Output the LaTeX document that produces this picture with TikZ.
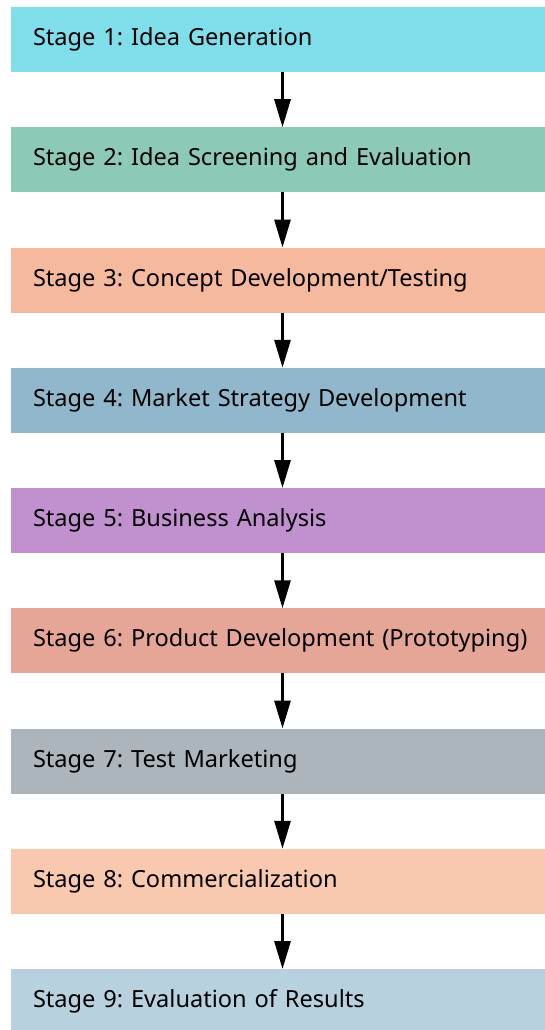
\documentclass[tikz,border=0pt]{standalone}
\usepackage{fontspec}
\setmainfont{Noto Sans}
\usetikzlibrary{positioning,arrows.meta}
\frenchspacing

\definecolor{stageone}{RGB}{128,222,234}
\definecolor{stagetwo}{RGB}{141,201,183}
\definecolor{stagethree}{RGB}{245,185,157}
\definecolor{stagefour}{RGB}{144,183,204}
\definecolor{stagefive}{RGB}{193,144,207}
\definecolor{stagesix}{RGB}{229,166,152}
\definecolor{stageseven}{RGB}{171,181,187}
\definecolor{stageeight}{RGB}{249,201,175}
\definecolor{stagenine}{RGB}{184,209,223}

\begin{document}
\begin{tikzpicture}[x=1pt,y=1pt,
    stagebox/.style={draw=none, outer sep=0pt, inner xsep=22pt,
        minimum width=543pt, minimum height=65pt,
        text width=499pt, align=left,
        font=\fontsize{23.6}{28}\selectfont},
    flow/.style={line width=3pt, -{Triangle[length=28pt,width=16pt]}},
    node distance=55.25pt]
    \useasboundingbox (0,0) rectangle (544,-1030);

    \node[stagebox, fill=stageone] (s1) at (282.5,-39.5) {Stage 1: Idea Generation};
    \node[stagebox, fill=stagetwo, below=of s1] (s2) {Stage 2: Idea Screening and Evaluation};
    \node[stagebox, fill=stagethree, below=of s2] (s3) {Stage 3: Concept Development/Testing};
    \node[stagebox, fill=stagefour, below=of s3] (s4) {Stage 4: Market Strategy Development};
    \node[stagebox, fill=stagefive, below=of s4] (s5) {Stage 5: Business Analysis};
    \node[stagebox, fill=stagesix, below=of s5] (s6) {\mbox{Stage 6: Product Development (Prototyping)}};
    \node[stagebox, fill=stageseven, below=of s6] (s7) {Stage 7: Test Marketing};
    \node[stagebox, fill=stageeight, below=of s7] (s8) {Stage 8: Commercialization};
    \node[stagebox, fill=stagenine, below=of s8] (s9) {Stage 9: Evaluation of Results};

    % arrows between the stages
    \draw[flow] (s1) -- (s2);
    \draw[flow] (s2) -- (s3);
    \draw[flow] (s3) -- (s4);
    \draw[flow] (s4) -- (s5);
    \draw[flow] (s5) -- (s6);
    \draw[flow] (s6) -- (s7);
    \draw[flow] (s7) -- (s8);
    \draw[flow] (s8) -- (s9);
\end{tikzpicture}
\end{document}
